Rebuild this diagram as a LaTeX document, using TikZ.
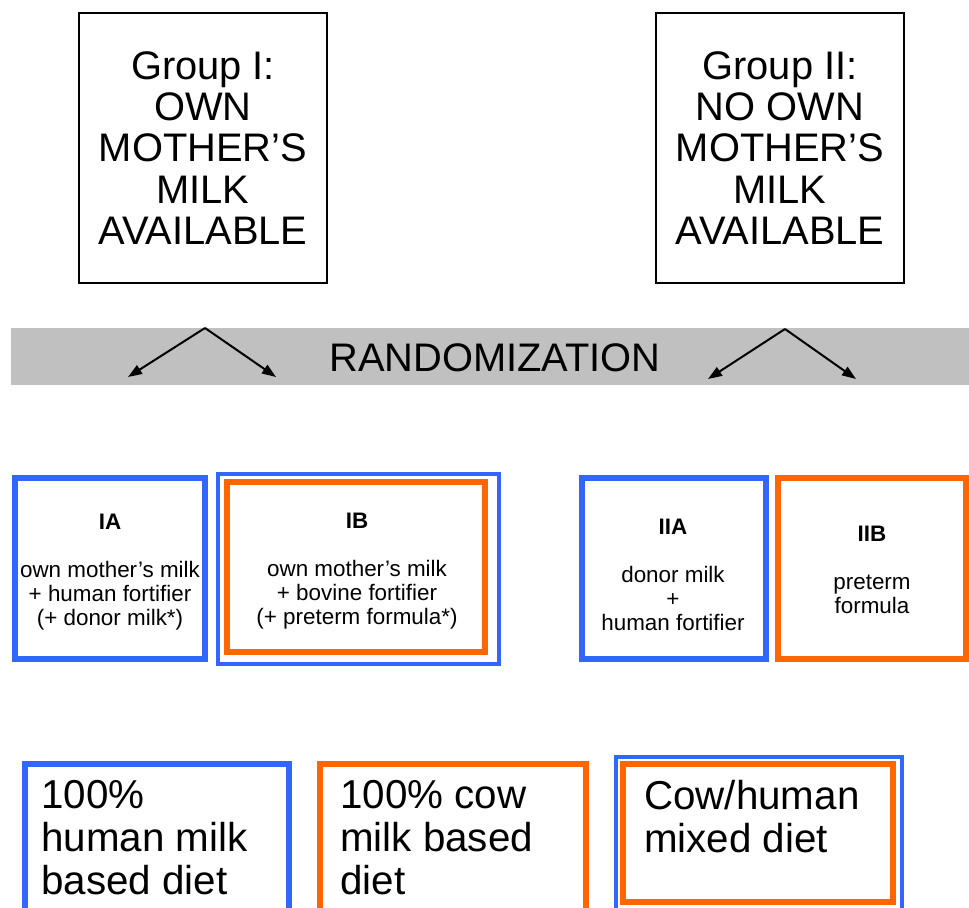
\documentclass[tikz,border=0pt]{standalone}
\usepackage{fontspec}
\setmainfont{Liberation Sans}
\usetikzlibrary{arrows.meta}
\definecolor{armblue}{RGB}{51,102,255}
\definecolor{armorange}{RGB}{255,102,0}
\definecolor{bandgray}{RGB}{192,192,192}

\begin{document}
\begin{tikzpicture}[x=1bp,y=-1bp,
        groupbox/.style={draw,line width=1.5bp,minimum width=248bp,minimum height=270bp,inner sep=0pt,align=center,font=\fontsize{40}{41.5}\selectfont},
        armbox/.style={draw=#1,line width=6bp,inner sep=0pt},
        armtext/.style={inner sep=0pt,align=center,font=\fontsize{22.5}{24}\selectfont},
        diettext/.style={anchor=north west,inner sep=0pt,align=left,font=\fontsize{40.5}{43}\selectfont},
        randarrow/.style={line width=2bp,-{Triangle[length=14bp,width=10bp]}}]
                \useasboundingbox (0,0) rectangle (969,908);
                \clip (0,0) rectangle (969,908);

                % groups
                \node[groupbox] (groupI) at (203,148) {Group I:\\OWN\\MOTHER’S\\MILK\\AVAILABLE};
                \node[groupbox] (groupII) at (780,148) {Group II:\\NO OWN\\MOTHER’S\\MILK\\AVAILABLE};

                % randomization band
                \node[fill=bandgray,minimum width=958bp,minimum height=57bp,inner sep=0pt] (band) at (490,356.5) {};
                \node[inner sep=0pt,font=\fontsize{40}{44}\selectfont] (rand) at (495,358) {RANDOMIZATION};
                \coordinate (apexI) at (205,328);
                \coordinate (toIA) at (128,377);
                \coordinate (toIB) at (276,377);
                \coordinate (apexII) at (785,329);
                \coordinate (toIIA) at (708,379);
                \coordinate (toIIB) at (856,379);
                \draw[randarrow] (apexI) -- (toIA);
                \draw[randarrow] (apexI) -- (toIB);
                \draw[randarrow] (apexII) -- (toIIA);
                \draw[randarrow] (apexII) -- (toIIB);

                % study arms
                \node[armbox=armblue,minimum width=190bp,minimum height=181bp] (boxIA) at (110,568.5) {};
                \node[armbox=armblue,line width=4bp,minimum width=281bp,minimum height=190bp] (boxIBout) at (358.5,569) {};
                \node[armbox=armorange,minimum width=258bp,minimum height=170bp] (boxIB) at (356,567) {};
                \node[armbox=armblue,minimum width=184bp,minimum height=181bp] (boxIIA) at (674,568.5) {};
                \node[armbox=armorange,minimum width=188bp,minimum height=181bp] (boxIIB) at (872,568.5) {};
                \node[armtext] (textIA) at (110,572) {\textbf{IA}\\[24bp]own mother’s milk\\+ human fortifier\\(+ donor milk*)};
                \node[armtext] (textIB) at (357,571) {\textbf{IB}\\[24bp]own mother’s milk\\+ bovine fortifier\\(+ preterm formula*)};
                \node[armtext] (textIIA) at (673,575) {\textbf{IIA}\\[24bp]donor milk\\+\\human fortifier};
                \node[armtext] (textIIB) at (872,570) {\textbf{IIB}\\[24bp]preterm\\formula};

                % diets
                \node[armbox=armblue,minimum width=264bp,minimum height=226bp] (dietHuman) at (157,877) {};
                \node[armbox=armorange,minimum width=266bp,minimum height=226bp] (dietCow) at (453,877) {};
                \node[armbox=armblue,line width=4bp,minimum width=286bp,minimum height=233bp] (dietMixOut) at (759,873.5) {};
                \node[armbox=armorange,minimum width=270bp,minimum height=138bp] (dietMix) at (758,833) {};
                \node[diettext] (txtHuman) at (41,780) {100\%\\human milk\\based diet};
                \node[diettext] (txtCow) at (340,780) {100\% cow\\milk based\\diet};
                \node[diettext] (txtMix) at (644,780) {Cow/human\\mixed diet};

            \end{tikzpicture}
\end{document}
